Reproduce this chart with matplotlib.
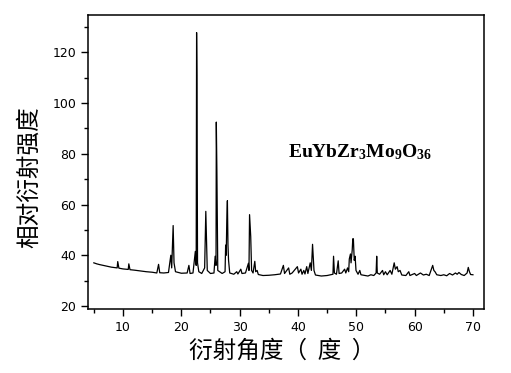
import matplotlib
matplotlib.use("Agg")
import matplotlib.pyplot as plt
from matplotlib.ticker import MultipleLocator

plt.rcParams['font.family'] = ['Noto Sans CJK SC', 'DejaVu Sans']
plt.rcParams['mathtext.fontset'] = 'custom'
plt.rcParams['mathtext.bf'] = 'Liberation Serif:bold'
plt.rcParams['mathtext.rm'] = 'Liberation Serif'

# XRD trace: 2-theta (deg) and relative intensity
two_theta = [5.0, 5.5, 6.0, 7.0, 8.0, 9.0, 9.1, 9.3, 10.0, 10.9, 11.0, 11.2, 12.0, 13.0, 14.0,
             15.0, 15.8, 16.1, 16.3, 17.0, 17.8, 18.2, 18.35, 18.6, 18.75, 19.0, 20.0, 21.0,
             21.3, 21.5, 22.0, 22.4, 22.55, 22.62, 22.68, 22.78, 23.0, 23.5, 24.0, 24.2, 24.3,
             24.45, 25.0, 25.6, 25.8, 25.95, 26.0, 26.1, 26.25, 27.0, 27.5, 27.6, 27.7, 27.8,
             27.9, 28.0, 28.1, 28.3, 29.0, 29.5, 29.7, 30.2, 30.4, 31.0, 31.5, 31.6, 31.7,
             31.8, 31.9, 32.05, 32.3, 32.6, 32.75, 33.0, 33.2, 34.0, 35.0, 36.0, 37.0, 37.5,
             37.7, 38.4, 38.6, 39.0, 39.9, 40.1, 40.5, 40.7, 41.0, 41.2, 41.5, 41.7, 42.1,
             42.3, 42.5, 42.6, 42.75, 43.0, 43.5, 44.0, 45.0, 46.0, 46.1, 46.25, 46.6, 46.9,
             47.05, 47.5, 48.0, 48.2, 48.5, 48.7, 48.8, 49.0, 49.1, 49.3, 49.4, 49.5, 49.65,
             49.8, 49.95, 50.3, 50.6, 50.8, 51.5, 52.0, 52.5, 53.0, 53.4, 53.5, 53.6, 54.0,
             54.5, 54.7, 55.0, 55.3, 55.8, 56.1, 56.5, 56.7, 57.0, 57.2, 57.5, 57.8, 58.5,
             59.0, 59.2, 60.0, 60.3, 61.0, 61.5, 62.0, 62.5, 63.1, 63.3, 63.5, 63.8, 64.5,
             65.0, 65.5, 66.0, 66.5, 67.0, 67.3, 67.6, 68.0, 68.5, 69.0, 69.2, 69.4, 69.6, 70.0]
intensity = [37.0, 36.6, 36.3, 35.8, 35.3, 35.0, 37.5, 34.9, 34.6, 34.4, 36.6, 34.3, 34.1, 33.8, 33.5,
             33.3, 33.0, 36.4, 33.1, 33.0, 33.2, 40.0, 35.0, 51.7, 37.0, 33.5, 32.9, 33.0,
             36.0, 32.8, 33.0, 41.5, 36.0, 127.8, 111.0, 37.0, 33.5, 32.8, 35.0, 57.3, 48.2,
             34.0, 32.8, 33.0, 39.6, 36.0, 92.5, 73.3, 34.0, 32.8, 33.5, 44.0, 40.0, 54.0,
             61.5, 44.0, 38.0, 33.0, 32.5, 33.5, 32.6, 34.5, 32.8, 33.0, 36.8, 34.0, 56.0,
             52.0, 47.4, 34.0, 33.0, 37.6, 33.5, 34.0, 32.4, 32.0, 32.1, 32.3, 32.6, 36.0,
             32.8, 35.0, 32.5, 33.0, 35.5, 33.0, 34.5, 32.5, 34.0, 32.6, 35.5, 32.8, 37.0,
             34.0, 44.3, 40.0, 34.0, 32.2, 32.0, 31.8, 32.0, 32.5, 39.6, 33.0, 32.5, 37.8,
             32.8, 33.0, 34.5, 33.0, 35.0, 33.5, 38.5, 40.5, 37.0, 42.0, 46.5, 46.5, 38.0,
             39.6, 34.0, 32.5, 34.0, 32.3, 32.0, 31.8, 32.3, 32.0, 33.0, 39.6, 33.0, 32.5,
             34.0, 32.3, 33.5, 32.3, 34.0, 32.5, 37.0, 34.5, 35.5, 33.5, 34.0, 32.2, 32.0,
             33.5, 32.0, 32.8, 32.0, 33.0, 32.2, 32.5, 32.0, 36.0, 34.0, 33.5, 32.3, 32.0,
             32.3, 31.9, 32.8, 32.2, 33.0, 32.5, 33.2, 32.4, 32.0, 33.0, 35.2, 33.5, 32.4, 32.3]

x_ticks = [10, 20, 30, 40, 50, 60, 70]
y_ticks = [20, 40, 60, 80, 100, 120]
x_label = "衍射角度（  度  ）"
y_label = "相对衍射强度"

fig = plt.figure(figsize=(5.11, 3.73), dpi=100)
ax = fig.add_axes([0.1722, 0.1716, 0.775, 0.788])
ax.plot(two_theta, intensity, color='black', linewidth=0.9)

ax.set_xlim(4.0, 71.9)
ax.set_ylim(18.8, 134.7)
ax.set_xticks(x_ticks)
ax.set_yticks(y_ticks)
ax.xaxis.set_minor_locator(MultipleLocator(5))
ax.yaxis.set_minor_locator(MultipleLocator(10))
ax.tick_params(which='both', direction='out', top=False, right=False, width=1.0, labelsize=9)
ax.tick_params(which='major', length=5)
ax.tick_params(which='minor', length=3)
for lab in ax.get_xticklabels() + ax.get_yticklabels():
    lab.set_family('DejaVu Sans')
for sp in ax.spines.values():
    sp.set_linewidth(1.1)

ax.set_xlabel(x_label, fontsize=17)
ax.xaxis.set_label_coords(0.49, -0.105)
ax.set_ylabel(y_label, fontsize=17)
ax.yaxis.set_label_coords(-0.118, 0.45)

ax.text(0.505, 0.535, r"$\mathbf{EuYbZr_{3}Mo_{9}O_{36}}$", transform=ax.transAxes,
        fontsize=14, ha='left', va='center')

fig.savefig("out.png", dpi=100)
